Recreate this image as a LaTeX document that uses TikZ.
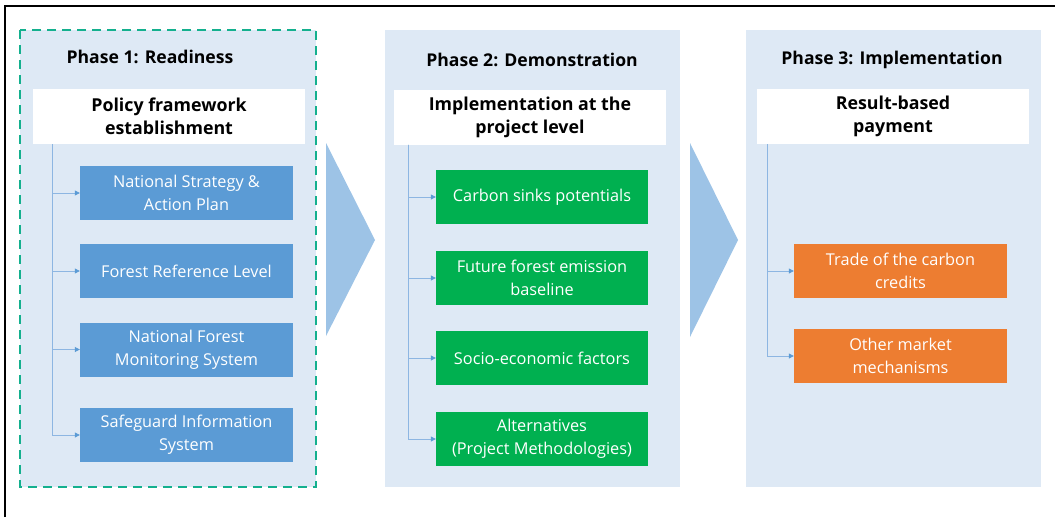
\documentclass[tikz,border=0pt]{standalone}
\usepackage{fontspec}
\setmainfont{Open Sans}
\usetikzlibrary{arrows.meta}
\definecolor{panelbg}{HTML}{DEE9F5}
\definecolor{boxblue}{HTML}{5B9BD5}
\definecolor{boxgreen}{HTML}{00B050}
\definecolor{boxorange}{HTML}{ED7D31}
\definecolor{chev}{HTML}{9DC3E6}
\definecolor{teal}{HTML}{14B08E}
\definecolor{connc}{HTML}{8DB6E2}
\tikzset{
  panel/.style={fill=panelbg, draw=none, inner sep=0pt},
  ttl/.style={font=\bfseries\fontsize{17.6}{20}\selectfont, text=black},
  hdr/.style={fill=white, draw=none, minimum width=272pt, minimum height=55pt, align=center,
     font=\bfseries\fontsize{17.8}{23}\selectfont, inner sep=0pt},
  item/.style={draw=none, minimum width=213pt, minimum height=54pt, align=center, text=white,
     font=\fontsize{16.3}{23}\selectfont, inner sep=0pt},
  conn/.style={draw=connc, line width=0.8pt, -{Triangle[length=5pt,width=5pt,fill=boxblue,color=boxblue]}},
}
\begin{document}
\begin{tikzpicture}[x=1pt,y=-1pt]
\useasboundingbox (0,0) rectangle (1055,517);
% outer frame lines
\draw[line width=2pt, black] (5,517) -- (5,6) -- (1055,6);
% panels
\fill[panelbg] (20,30) rectangle (316,487);
\draw[teal, line width=2.2pt, dash pattern=on 9pt off 6pt] (20,30) rectangle (316,487);
\fill[panelbg] (385,30) rectangle (680,487);
\fill[panelbg] (746,30) rectangle (1041,487);
% chevrons
\fill[chev] (326,143) -- (375,240) -- (326,336) -- cycle;
\fill[chev] (690,143) -- (738,240) -- (690,337) -- cycle;
% titles
\node[ttl] (t1) at (150,57) {Phase 1: Readiness};
\node[ttl] (t2) at (532,60) {Phase 2: Demonstration};
\node[ttl] (t3) at (892,60) {Phase 3: Implementation};
% headers
\node[hdr] (h1) at (169,116.5) {Policy framework\\establishment};
\node[hdr] (h2) at (530,117) {Implementation at the\\project level};
\node[hdr] (h3) at (893,116.5) {Result-based\\payment};
% phase 1 items
\node[item, fill=boxblue] (a1) at (186.5,193) {National Strategy \&\\Action Plan};
\node[item, fill=boxblue] (a2) at (186.5,271) {Forest Reference Level};
\node[item, fill=boxblue] (a3) at (186.5,349.5) {National Forest\\Monitoring System};
\node[item, fill=boxblue] (a4) at (186.5,435) {Safeguard Information\\System};
% phase 2 items
\node[item, fill=boxgreen, minimum width=212pt] (b1) at (542,197) {Carbon sinks potentials};
\node[item, fill=boxgreen, minimum width=212pt] (b2) at (542,278) {Future forest emission\\baseline};
\node[item, fill=boxgreen, minimum width=212pt] (b3) at (542,358) {Socio-economic factors};
\node[item, fill=boxgreen, minimum width=212pt] (b4) at (542,439) {Alternatives\\(Project Methodologies)};
% phase 3 items
\node[item, fill=boxorange] (c1) at (900.5,271) {Trade of the carbon\\credits};
\node[item, fill=boxorange] (c2) at (900.5,356) {Other market\\mechanisms};
% connectors
\foreach \n in {a1,a2,a3,a4}{\draw[conn] ([xshift=20pt]h1.south west) |- (\n.west);}
\foreach \n in {b1,b2,b3,b4}{\draw[conn] ([xshift=15pt]h2.south west) |- (\n.west);}
\foreach \n in {c1,c2}{\draw[conn] ([xshift=11pt]h3.south west) |- (\n.west);}
\end{tikzpicture}
\end{document}
